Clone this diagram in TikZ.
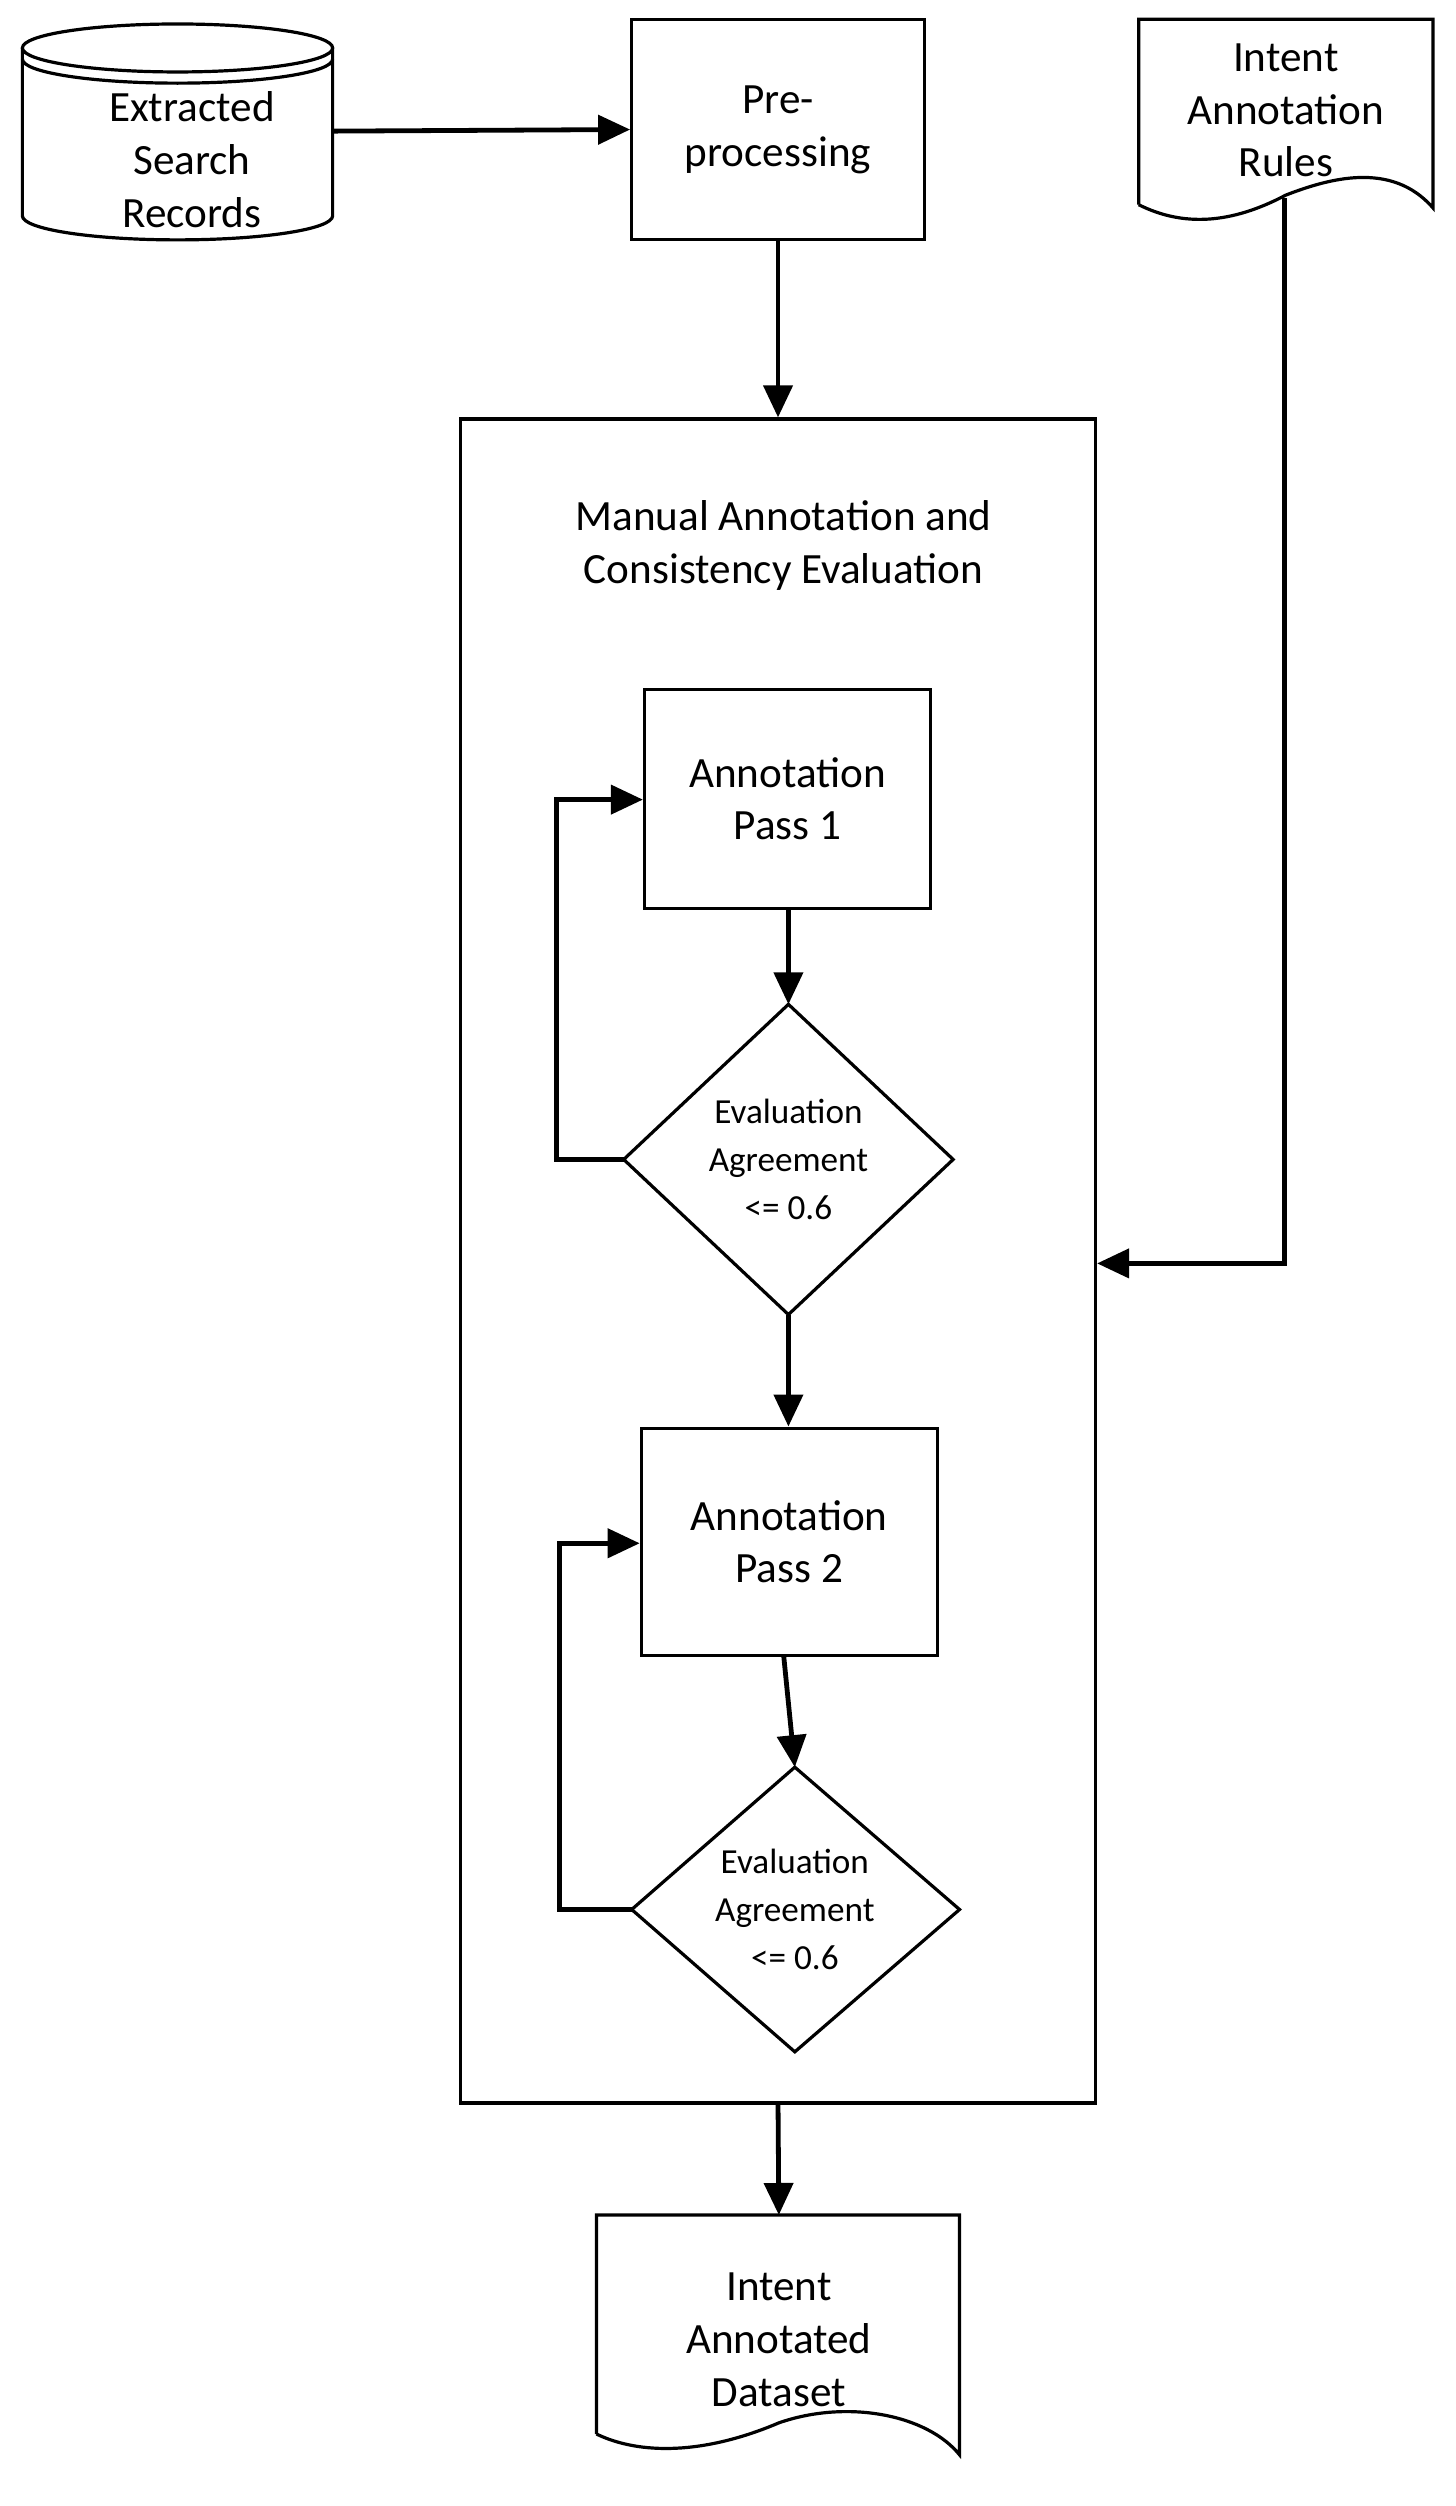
\documentclass[tikz,border=0pt]{standalone}
\usepackage{fontspec}
\setmainfont{Carlito}
\usetikzlibrary{arrows.meta,shapes.geometric}
\begin{document}
\begin{tikzpicture}[x=0.5pt,y=-0.5pt,
  box/.style={draw,line width=1pt,rectangle,inner sep=0pt,align=center,font=\fontsize{13.5}{16.5}\selectfont},
  arr/.style={line width=1.5pt,-{Triangle[length=10pt,width=9pt]}},
  lbl/.style={align=center,font=\fontsize{13.5}{16.5}\selectfont},
  slbl/.style={align=center,font=\fontsize{11}{15}\selectfont}]
\useasboundingbox (0,0) rectangle (910,1567);
% cylinder
\draw[line width=1pt] (14,30) -- (14,135) arc[start angle=180,end angle=360,x radius=97,y radius=-15] -- (208,30);
\draw[line width=1pt] (111,30) ellipse[x radius=97,y radius=15];
\draw[line width=1pt] (14,37) arc[start angle=180,end angle=360,x radius=97,y radius=-15];
\node[lbl] (cyl) at (120,100) {Extracted\\Search\\Records};
\coordinate (cylR) at (208,82);
% preprocessing
\node[box,minimum width=91.5pt,minimum height=69pt] (pre) at (486.5,81) {Pre-\\processing};
% rules doc
\draw[line width=1pt] (712,128) -- (712,12) -- (896,12) -- (896,130)
  .. controls (870,100) and (830,112) .. (804,122) .. controls (770,140) and (740,142) .. (712,128);
\node[lbl] (rules) at (804,69) {Intent\\Annotation\\Rules};
\coordinate (rulesB) at (803,124);
% big box
\node[draw,line width=1pt,minimum width=198.5pt,minimum height=526.5pt,inner sep=0pt] (big) at (486.5,788.5) {};
\node[lbl] (title) at (490,341) {Manual Annotation and\\Consistency Evaluation};
% pass 1
\node[box,minimum width=89.5pt,minimum height=68.5pt] (p1) at (492.5,499.5) {Annotation\\Pass 1};
\draw[line width=1pt] (493,628) -- (596,725) -- (493,822) -- (390,725) -- cycle;
\node[slbl] (d1) at (493,725) {Evaluation\\Agreement\\<= 0.6};
\coordinate (d1T) at (493,628); \coordinate (d1B) at (493,822); \coordinate (d1L) at (390,725);
% pass 2
\node[box,minimum width=92.5pt,minimum height=71pt] (p2) at (493.5,964) {Annotation\\Pass 2};
\draw[line width=1pt] (497,1105) -- (600,1194) -- (497,1283) -- (395,1194) -- cycle;
\node[slbl] (d2) at (497,1194) {Evaluation\\Agreement\\<= 0.6};
\coordinate (d2T) at (497,1105); \coordinate (d2L) at (395,1194);
% dataset doc
\draw[line width=1pt] (373,1522) -- (373,1385) -- (600,1385) -- (600,1535)
  .. controls (580,1510) and (530,1500) .. (487,1515) .. controls (440,1535) and (400,1535) .. (373,1522);
\node[lbl] (ds) at (487,1463) {Intent\\Annotated\\Dataset};
% arrows
\draw[arr] (cylR) -- (pre.west);
\draw[arr] (pre.south) -- (big.north);
\draw[arr] (p1.south -| d1T) -- (d1T);
\draw[arr] (d1L) -- (348,725) -- (348,500) -- (p1.west |- 0,500);
\draw[arr] (d1B) -- (p2.north -| d1B);
\draw[arr] (490,1035) -- (d2T);
\draw[arr] (d2L) -- (350,1194) -- (350,965) -- (p2.west |- 0,965);
\draw[arr] (rulesB) -- (803,790) -- (big.east |- 0,790);
\draw[arr] (big.south) -- (487,1385);
\end{tikzpicture}
\end{document}
